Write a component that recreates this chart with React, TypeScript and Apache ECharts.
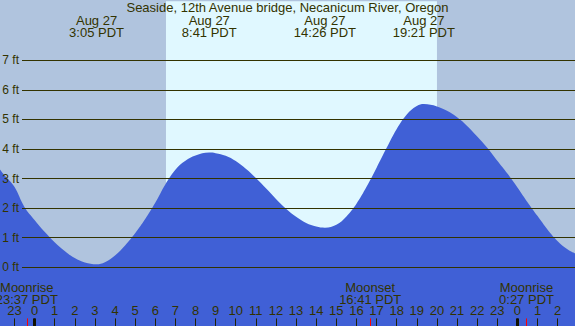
import React, { useEffect, useRef } from "react";
import * as echarts from "echarts";

const TITLE = "Seaside, 12th Avenue bridge, Necanicum River, Oregon";

// Tide curve (hours from local midnight of Aug 27, feet)
const tideHours = [
  -1.715, -1.5, -1, -0.5, 0, 0.5, 1, 1.5, 2, 2.5, 3.083, 3.5, 4, 4.5, 5, 5.5, 6,
  6.5, 7, 7.5, 8, 8.683, 9, 9.5, 10, 10.5, 11, 11.5, 12, 12.5, 13, 13.5, 14,
  14.433, 15, 15.5, 16, 16.5, 17, 17.5, 18, 18.5, 19, 19.35, 20, 20.5, 21, 21.5,
  22, 22.5, 23, 23.5, 24, 24.5, 25, 25.5, 26, 26.5, 26.86,
];
const tideFeet = [
  3.31, 3.12, 2.72, 2.04, 1.6, 1.2, 0.85, 0.55, 0.31, 0.16, 0.1, 0.17, 0.4, 0.74,
  1.15, 1.63, 2.18, 2.8, 3.3, 3.6, 3.78, 3.88, 3.86, 3.77, 3.59, 3.33, 3.02,
  2.67, 2.31, 1.98, 1.71, 1.5, 1.38, 1.34, 1.44, 1.72, 2.15, 2.72, 3.37, 4.04,
  4.68, 5.17, 5.45, 5.52, 5.44, 5.29, 5.07, 4.78, 4.42, 4.04, 3.6, 3.17, 2.7,
  2.2, 1.73, 1.27, 0.88, 0.6, 0.47,
];

const extremeDate = "Aug 27";
const extremeTimes = ["3:05", "8:41", "14:26", "19:21"];

const moonEvents = ["Moonrise", "Moonset", "Moonrise"];
const moonTimes = ["23:37", "16:41", "0:27"];
const moonDayOffset = [-1, 0, 1];

const sunrise = "6:32";
const sunset = "20:00";

const hourTicks = [-1, 0, 1, 2, 3, 4, 5, 6, 7, 8, 9, 10, 11, 12, 13, 14, 15, 16, 17, 18, 19, 20, 21, 22, 23, 24, 25, 26];
const midnightTicks = [0, 24];
const footMin = 0;
const footMax = 7;

const X_MIN = -1.715;
const X_MAX = 26.86;

const parseTime = (s: string) => {
  const [h, m] = s.split(":").map(Number);
  return h + m / 60;
};

const FONT = "Liberation Sans";
const TXT = "#333300";

export default function App() {
  const ref = useRef<HTMLDivElement>(null);

  useEffect(() => {
    if (!ref.current) return;
    const chart = echarts.init(ref.current, undefined, { renderer: "svg" });

    const extremeHours = extremeTimes.map(parseTime);
    const moonHours = moonTimes.map((t, i) => parseTime(t) + 24 * moonDayOffset[i]);
    const nearest = (arr: number[], v: number) => {
      let best = 0;
      arr.forEach((a, i) => {
        if (Math.abs(a - v) < Math.abs(arr[best] - v)) best = i;
      });
      return best;
    };

    const baseX = {
      type: "value" as const,
      gridIndex: 0,
      min: X_MIN,
      max: X_MAX,
      z: 10,
      axisLine: { show: false, onZero: false },
      splitLine: { show: false },
    };

    const option: any = {
      animation: false,
      textStyle: { fontFamily: FONT },
      title: {
        text: TITLE,
        left: "center",
        top: 1,
        padding: 0,
        textStyle: { fontFamily: FONT, fontSize: 13, fontWeight: "normal", color: TXT },
      },
      grid: [
        {
          left: 0,
          right: 0,
          top: 1.15,
          height: 325.27,
          show: true,
          backgroundColor: "#b0c4de",
          borderWidth: 0,
          containLabel: false,
          outerBoundsMode: "none",
        },
        {
          left: 22,
          right: 0,
          top: 60.3,
          height: 207,
          show: false,
          containLabel: false,
          outerBoundsMode: "none",
        },
      ],
      xAxis: [
        {
          ...baseX,
          position: "bottom",
          axisTick: {
            show: true,
            inside: true,
            length: 8,
            customValues: hourTicks,
            lineStyle: { color: "#222200", width: 1 },
          },
          axisLabel: {
            show: true,
            inside: true,
            margin: 9,
            customValues: hourTicks,
            fontSize: 13,
            color: TXT,
            fontFamily: FONT,
            formatter: (v: number) => String(((Math.round(v) % 24) + 24) % 24),
          },
        },
        {
          ...baseX,
          position: "bottom",
          axisTick: {
            show: true,
            inside: true,
            length: 8,
            customValues: midnightTicks,
            lineStyle: { color: "#111100", width: 3 },
          },
          axisLabel: { show: false },
        },
        {
          ...baseX,
          position: "bottom",
          axisTick: {
            show: true,
            inside: true,
            length: 8,
            customValues: moonHours,
            lineStyle: { color: "#ff0000", width: 1 },
          },
          axisLabel: {
            show: true,
            inside: true,
            margin: 21,
            customValues: moonHours,
            fontSize: 13,
            lineHeight: 12,
            color: TXT,
            fontFamily: FONT,
            formatter: (v: number) => {
              const i = nearest(moonHours, v);
              return `${moonEvents[i]}\n${moonTimes[i]} PDT`;
            },
          },
        },
        {
          ...baseX,
          position: "top",
          axisTick: { show: false },
          axisLabel: {
            show: true,
            inside: true,
            margin: 13,
            customValues: extremeHours,
            fontSize: 13,
            lineHeight: 12,
            color: TXT,
            fontFamily: FONT,
            formatter: (v: number) => {
              const i = nearest(extremeHours, v);
              return `${extremeDate}\n${extremeTimes[i]} PDT`;
            },
          },
        },
        { type: "value", gridIndex: 1, show: false, min: 0, max: 1 },
      ],
      yAxis: [
        { type: "value", gridIndex: 0, min: -2, max: 9, show: false },
        {
          type: "value",
          gridIndex: 1,
          min: footMin,
          max: footMax,
          interval: 1,
          z: 10,
          axisLine: { show: false },
          axisTick: { show: false },
          splitLine: { show: true, lineStyle: { color: "#333300", width: 1 } },
          axisLabel: {
            show: true,
            margin: 3,
            fontSize: 12,
            color: TXT,
            fontFamily: FONT,
            formatter: (v: number) => `${v} ft`,
          },
        },
      ],
      series: [
        {
          type: "line",
          xAxisIndex: 0,
          yAxisIndex: 0,
          z: 2,
          data: tideHours.map((h, i) => [h, tideFeet[i]]),
          smooth: 0.4,
          symbol: "none",
          lineStyle: { width: 0 },
          areaStyle: { color: "#4060d6", opacity: 1, origin: "start" },
          markArea: {
            silent: true,
            itemStyle: { color: "#e0f8ff" },
            data: [[{ xAxis: parseTime(sunrise) }, { xAxis: parseTime(sunset) }]],
          },
        },
      ],
    };

    chart.setOption(option);
    return () => chart.dispose();
  }, []);

  return (
    <div
      ref={ref}
      style={{
        position: "fixed",
        left: 0,
        top: 0,
        width: 575,
        height: 326,
        background: "#b0c4de",
      }}
    />
  );
}
